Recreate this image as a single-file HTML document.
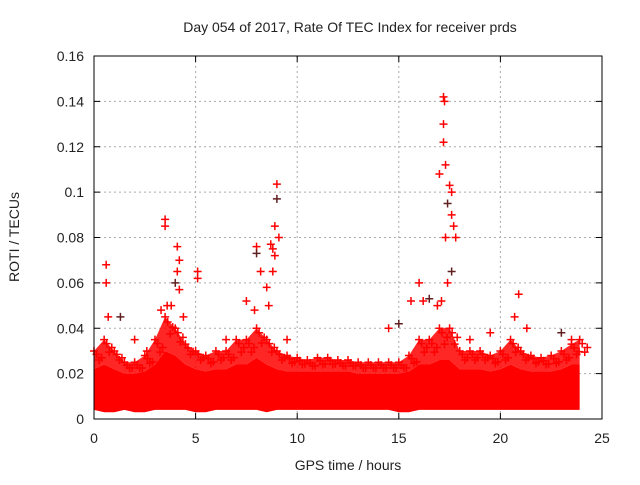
<!DOCTYPE html>
<html><head><meta charset="utf-8"><style>
body{margin:0;background:#fff;}
svg text{font-family:"Liberation Sans",sans-serif;font-size:14px;fill:#222;}
</style></head><body>
<svg id="chart" width="640" height="480" xmlns="http://www.w3.org/2000/svg">
<text x="350" y="32" text-anchor="middle">Day 054 of 2017, Rate Of TEC Index for receiver prds</text>
<text x="19" y="237" text-anchor="middle" transform="rotate(-90 19 237)">ROTI / TECUs</text>
<text x="348" y="470" text-anchor="middle">GPS time / hours</text>
<g id="grid"></g>
<g id="ticks"></g>
<g id="marks"></g>
<rect x="94" y="56" width="508" height="363" fill="none" stroke="#000" stroke-width="1"/>
</svg>
<script>
const xTicks=[0,5,10,15,20,25];
const yTicks=[0,0.02,0.04,0.06,0.08,0.1,0.12,0.14,0.16];
const yTickLabels=["0","0.02","0.04","0.06","0.08","0.1","0.12","0.14","0.16"];
const binTimes=[0,0.5,1,1.5,2,2.5,3,3.5,4,4.5,5,5.5,6,6.5,7,7.5,8,8.5,9,9.5,10,10.5,11,11.5,12,12.5,13,13.5,14,14.5,15,15.5,16,16.5,17,17.5,18,18.5,19,19.5,20,20.5,21,21.5,22,22.5,23,23.5,23.9];
const bandHigh=[0.03,0.035,0.03,0.025,0.025,0.028,0.035,0.045,0.04,0.033,0.03,0.028,0.03,0.03,0.035,0.035,0.04,0.035,0.03,0.028,0.027,0.026,0.027,0.027,0.026,0.026,0.025,0.025,0.025,0.025,0.025,0.028,0.035,0.035,0.04,0.04,0.03,0.03,0.03,0.028,0.03,0.035,0.03,0.028,0.027,0.028,0.03,0.033,0.035];
const bandCore=[0.022,0.024,0.022,0.02,0.02,0.021,0.024,0.03,0.028,0.024,0.022,0.021,0.022,0.022,0.024,0.024,0.027,0.024,0.022,0.021,0.021,0.021,0.021,0.021,0.021,0.021,0.02,0.02,0.02,0.02,0.02,0.021,0.024,0.024,0.026,0.026,0.022,0.022,0.022,0.021,0.022,0.024,0.022,0.021,0.021,0.021,0.022,0.024,0.024];
const bandLow=[0.004,0.003,0.003,0.004,0.003,0.003,0.004,0.004,0.004,0.004,0.003,0.003,0.004,0.004,0.004,0.004,0.004,0.003,0.004,0.004,0.004,0.004,0.004,0.004,0.004,0.004,0.004,0.004,0.004,0.004,0.003,0.003,0.004,0.004,0.004,0.004,0.004,0.004,0.004,0.004,0.004,0.004,0.004,0.004,0.004,0.004,0.004,0.004,0.004];
const outT=[0.6,0.6,0.7,1.3,3.5,3.5,3.6,4.1,4.2,4.1,4.0,4.2,3.8,5.1,5.1,7.5,8.0,8.0,8.2,8.7,8.8,8.8,8.9,9.0,9.0,8.5,8.9,9.1,8.6,15.6,16.0,16.5,17.0,17.2,17.25,17.2,17.2,17.3,17.4,17.5,17.6,17.6,17.7,17.3,17.4,17.6,17.8,17.1,16.9,20.9,20.7,21.3,23.0,23.5,2.0,2.6,6.5,9.5,14.5,15.0,18.5,19.5,3.3,4.4,7.9,16.2];
const outV=[0.068,0.060,0.045,0.045,0.088,0.085,0.050,0.076,0.070,0.065,0.060,0.057,0.050,0.065,0.062,0.052,0.076,0.073,0.065,0.077,0.075,0.065,0.085,0.1035,0.097,0.058,0.072,0.080,0.050,0.052,0.060,0.053,0.108,0.142,0.140,0.130,0.122,0.112,0.095,0.103,0.100,0.090,0.085,0.080,0.060,0.065,0.080,0.052,0.050,0.055,0.045,0.040,0.038,0.035,0.035,0.030,0.035,0.035,0.040,0.042,0.035,0.038,0.048,0.045,0.048,0.052];
const X=t=>94+t*(508/25);
const Y=v=>419-v*(363/0.16);
const NS="http://www.w3.org/2000/svg";
function mk(tag,attrs,parent){const e=document.createElementNS(NS,tag);for(const k in attrs)e.setAttribute(k,attrs[k]);parent.appendChild(e);return e;}
const grid=document.getElementById('grid'),ticks=document.getElementById('ticks'),marks=document.getElementById('marks');
xTicks.forEach(t=>{
 if(t>0&&t<25){const g=mk('line',{x1:X(t),x2:X(t),y1:56,y2:419,stroke:'#aaa','stroke-dasharray':'2,3'},grid);
 
 }
 mk('line',{x1:X(t),x2:X(t),y1:419,y2:413,stroke:'#000'},ticks);
 mk('line',{x1:X(t),x2:X(t),y1:56,y2:62,stroke:'#000'},ticks);
 const l=mk('text',{x:X(t),y:443,'text-anchor':'middle'},ticks);l.textContent=t;
 
 
});
yTicks.forEach((v,i)=>{
 if(i>0&&i<yTicks.length-1){const g=mk('line',{x1:94,x2:602,y1:Y(v),y2:Y(v),stroke:'#aaa','stroke-dasharray':'2,3'},grid);
 
 }
 mk('line',{x1:94,x2:100,y1:Y(v),y2:Y(v),stroke:'#000'},ticks);
 mk('line',{x1:602,x2:596,y1:Y(v),y2:Y(v),stroke:'#000'},ticks);
 const l=mk('text',{x:84,y:Y(v)+5,'text-anchor':'end'},ticks);l.textContent=yTickLabels[i];
 
 
});
let hiPath='',corePath='';
binTimes.forEach((t,i)=>{hiPath+=(i?'L':'M')+X(t)+','+Y(bandHigh[i]);});
for(let i=binTimes.length-1;i>=0;i--)hiPath+='L'+X(binTimes[i])+','+Y(bandCore[i]);
const pHi=mk('path',{d:hiPath+'Z',fill:'#ff0000','fill-opacity':'0.85'},marks);


binTimes.forEach((t,i)=>{corePath+=(i?'L':'M')+X(t)+','+Y(bandCore[i]);});
for(let i=binTimes.length-1;i>=0;i--)corePath+='L'+X(binTimes[i])+','+Y(bandLow[i]);
const pCore=mk('path',{d:corePath+'Z',fill:'#ff0000'},marks);


function cross(t,v,c){const x=X(t),y=Y(v);
 const p=mk('path',{d:`M${x-4},${y}H${x+4}M${x},${y-4}V${y+4}`,stroke:c,'stroke-width':1.5},marks);
 
 }
binTimes.forEach((t,i)=>{
 cross(t,bandHigh[i],'#ff0000');
 cross(t+0.125,bandHigh[i]*0.95,'#ff0000');
 cross(t+0.25,(bandHigh[i]+bandCore[i])/2,'#ff0000');
 cross(t+0.375,bandHigh[i]*0.9,'#ff0000');
});
outT.forEach((t,i)=>cross(t,outV[i],i%7==3?'#602020':'#ff0000'));
</script>
</body></html>
